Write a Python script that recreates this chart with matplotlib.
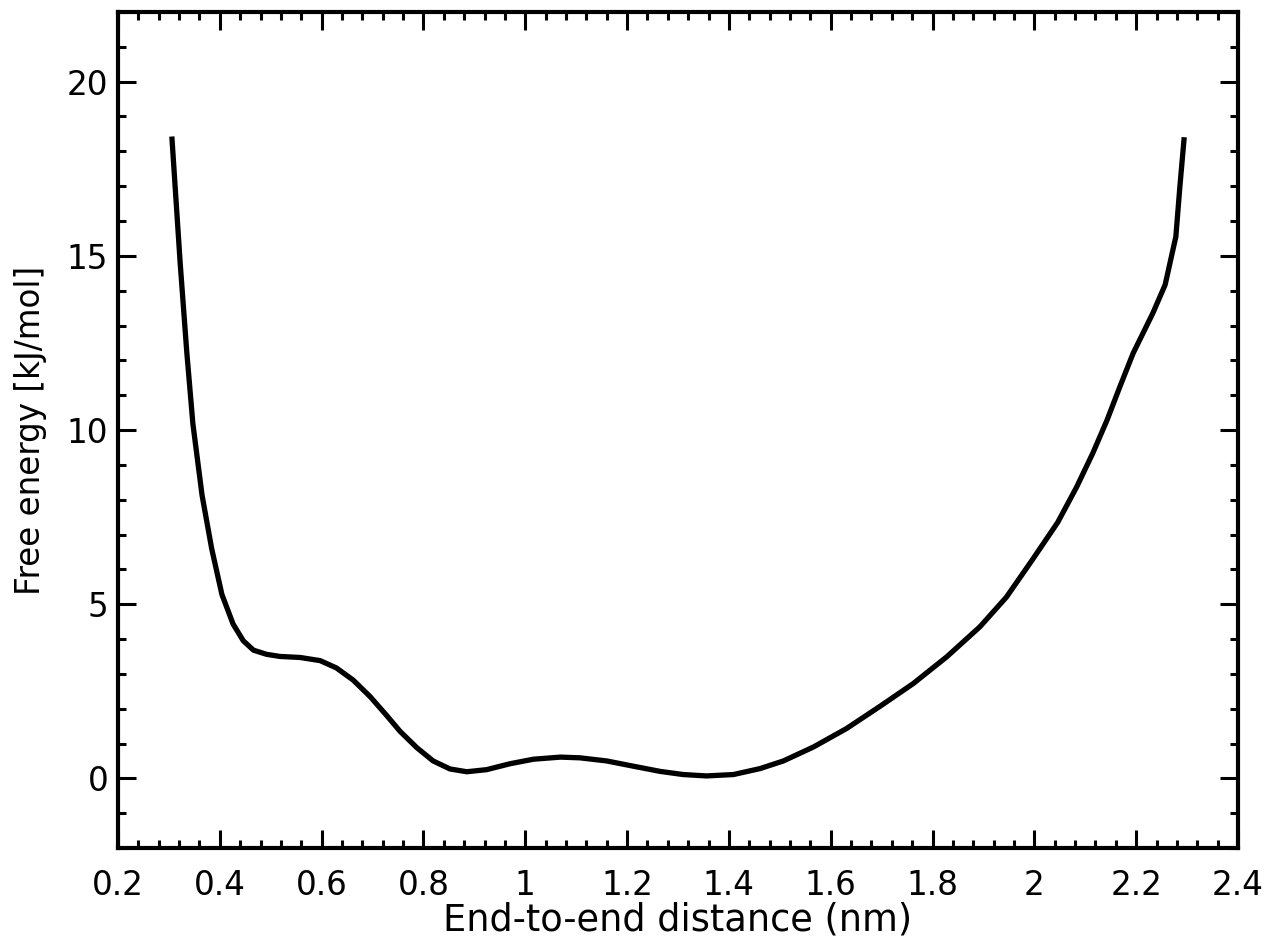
import matplotlib
matplotlib.use('Agg')
import matplotlib.pyplot as plt
from matplotlib.ticker import MultipleLocator, FormatStrFormatter

# End-to-end distance (nm) and free energy (kJ/mol)
distance = [0.306, 0.322, 0.335, 0.347, 0.365, 0.384, 0.404, 0.426, 0.446,
            0.466, 0.492, 0.518, 0.558, 0.597, 0.629, 0.662, 0.695, 0.728,
            0.754, 0.787, 0.819, 0.852, 0.885, 0.924, 0.970, 1.016, 1.069,
            1.107, 1.160, 1.212, 1.265, 1.310, 1.356, 1.409, 1.461, 1.507,
            1.566, 1.631, 1.697, 1.762, 1.828, 1.893, 1.945, 1.995, 2.046,
            2.083, 2.115, 2.143, 2.168, 2.194, 2.233, 2.257, 2.278, 2.286,
            2.294]
free_energy = [18.35, 14.8, 12.24, 10.18, 8.13, 6.59, 5.28, 4.43, 3.95,
               3.68, 3.56, 3.50, 3.47, 3.38, 3.17, 2.82, 2.35, 1.80,
               1.35, 0.88, 0.50, 0.27, 0.19, 0.25, 0.42, 0.55, 0.61,
               0.59, 0.50, 0.35, 0.20, 0.11, 0.07, 0.11, 0.28, 0.50,
               0.90, 1.43, 2.07, 2.72, 3.49, 4.35, 5.2, 6.25, 7.35,
               8.36, 9.34, 10.29, 11.24, 12.2, 13.36, 14.17, 15.55, 17.0,
               18.33]

plt.rcParams['font.family'] = 'DejaVu Sans'

fig = plt.figure(figsize=(12.68, 9.43), dpi=100)
ax = fig.add_axes([0.0931, 0.1007, 0.8832, 0.8866])

ax.plot(distance, free_energy, color='black', linewidth=3.8,
        solid_joinstyle='round')

ax.set_xlim(0.2, 2.4)
ax.set_ylim(-2, 22)
ax.xaxis.set_major_locator(MultipleLocator(0.2))
ax.xaxis.set_minor_locator(MultipleLocator(0.04))
ax.yaxis.set_major_locator(MultipleLocator(5))
ax.yaxis.set_minor_locator(MultipleLocator(1))
ax.xaxis.set_major_formatter(FormatStrFormatter('%g'))
ax.yaxis.set_major_formatter(FormatStrFormatter('%g'))

for side in ax.spines.values():
    side.set_linewidth(3)

ax.tick_params(which='both', direction='in', top=True, right=True, width=2.2)
ax.tick_params(which='major', length=13, labelsize=23.5)
ax.tick_params(which='minor', length=6)
ax.tick_params(axis='x', which='major', pad=15)
ax.tick_params(axis='y', which='major', pad=7)

ax.set_xlabel('End-to-end distance (nm)', fontsize=26.5, labelpad=0)
ax.set_ylabel('Free energy [kJ/mol]', fontsize=23.5, labelpad=14)

fig.savefig('out.png', dpi=100)
